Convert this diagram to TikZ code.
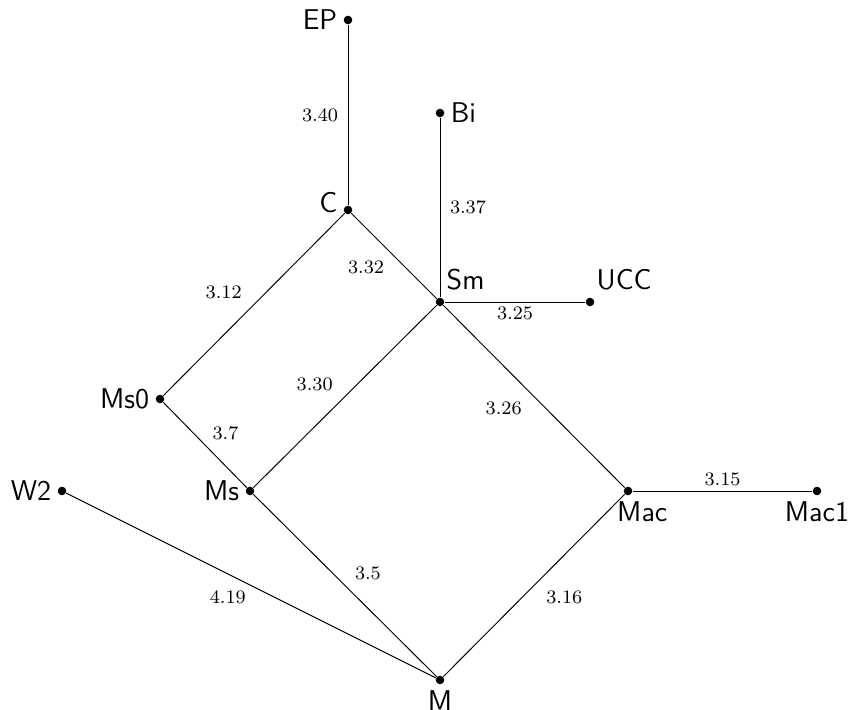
\documentclass[tikz,border=0pt]{standalone}

\tikzset{
  dot/.style={circle,fill=black,inner sep=0pt,minimum size=3.6pt},
  lbl/.style={font=\sffamily\large},
  wt/.style={font=\footnotesize,inner sep=2pt},
}

\begin{document}
\begin{tikzpicture}[x=0.42pt,y=-0.42pt,every label/.style={lbl}]
	\useasboundingbox (0,0) rectangle (848,710);
	% vertices
	\node[dot,label={[label distance=-1pt]left:EP}] (EP) at (348,20) {};
	\node[dot,label={[label distance=-1pt]right:Bi}] (Bi) at (440,113) {};
	\node[dot,label={[yshift=3pt,label distance=-1pt]left:C}] (C) at (348,210) {};
	\node[dot,label={[label distance=-3pt,yshift=2pt]above right:Sm}] (Sm) at (440,302) {};
	\node[dot,label={[label distance=-3pt,yshift=2pt]above right:UCC}] (UCC) at (590,302) {};
	\node[dot,label={[label distance=-1pt]left:Ms0}] (Ms0) at (160,399) {};
	\node[dot,label={[label distance=-1pt]left:W2}] (W2) at (62,491) {};
	\node[dot,label={[label distance=-1pt]left:Ms}] (Ms) at (250,491) {};
	\node[dot,label={[xshift=6pt,label distance=-1pt]below:Mac}] (Mac) at (628,491) {};
	\node[dot,label={[label distance=-1pt]below:Mac1}] (Mac1) at (817,491) {};
	\node[dot,label={[label distance=-1pt]below:M}] (M) at (440,680) {};
	% edges
	\draw (EP) -- node[wt,left,xshift=-2pt] {3.40} (C);
	\draw (Bi) -- node[wt,right,xshift=2pt] {3.37} (Sm);
	\draw (C) -- node[wt,above left,xshift=-3pt] {3.12} (Ms0);
	\draw (C) -- node[wt,below left,xshift=-2pt] {3.32} (Sm);
	\draw (Sm) -- node[wt,below] {3.25} (UCC);
	\draw (Sm) -- node[wt,above left,xshift=-3pt] {3.30} (Ms);
	\draw (Sm) -- node[wt,below left,xshift=-3pt] {3.26} (Mac);
	\draw (Ms0) -- node[wt,above right,xshift=1pt] {3.7} (Ms);
	\draw (Mac) -- node[wt,above] {3.15} (Mac1);
	\draw (Ms) -- node[wt,above right,xshift=2pt] {3.5} (M);
	\draw (Mac) -- node[wt,below right,xshift=3pt] {3.16} (M);
	\draw (W2) -- node[wt,below left] {4.19} (M);
\end{tikzpicture}
\end{document}
